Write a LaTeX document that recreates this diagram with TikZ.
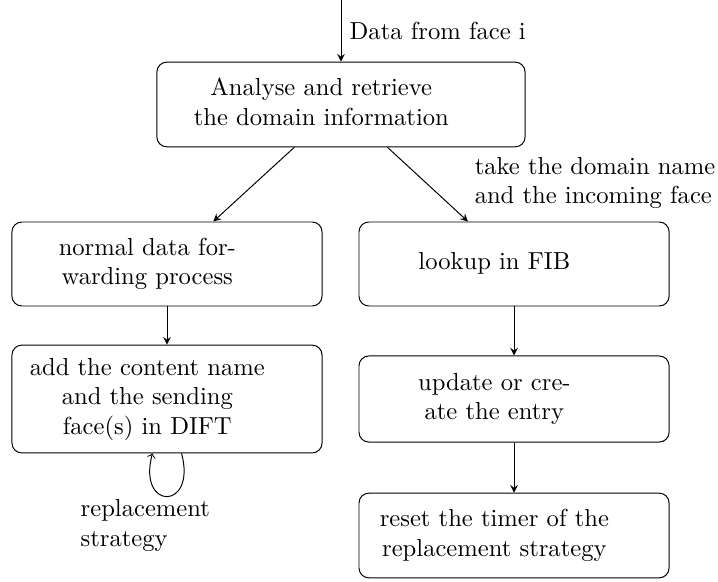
\documentclass[tikz,border=0pt]{standalone}
\usepackage{xcolor}
\usepackage{tikz}
\usetikzlibrary{shapes.geometric, arrows}
\usetikzlibrary{calc,positioning}

% tekst in de kaders staat iets naar links
\newcommand{\steptext}[1]{\begin{tabular}{@{}c@{}}#1\end{tabular}\hspace*{16pt}}

\tikzset{
  stepbox/.style={draw, rounded corners=4pt, align=center,
    minimum width=4.43cm, minimum height=1.2cm},
}

\begin{document}
\begin{tikzpicture}[scale=1]

    \useasboundingbox (0,0) rectangle (10.258,8.301);

    % Ingaande data
    \coordinate (in) at (4.872,8.301);
    \node[stepbox, minimum width=5.26cm, minimum height=1.21cm] (analyse) at (4.872,6.808)
      {\steptext{Analyse and retrieve\\the domain information}};
    \draw[-stealth] (in) -- (analyse) node[midway, right] {Data from face i};

    % Linker tak
    \node[stepbox] (normal) at (2.386,4.529) {\steptext{normal data for-\\warding process}};
    \node[stepbox, minimum height=1.54cm] (content) at (2.386,2.600)
      {\steptext{add the content name\\and the sending\\face(s) in DIFT}};

    % Rechter tak
    \node[stepbox] (lookup) at (7.344,4.529) {\steptext{lookup in FIB}};
    \node[stepbox, minimum height=1.23cm] (update) at (7.344,2.600)
      {\steptext{update or cre-\\ate the entry}};
    \node[stepbox, minimum height=1.21cm] (reset) at (7.344,0.650)
      {\steptext{reset the timer of the\\replacement strategy}};

    % Pijlen
    \draw[-stealth] (analyse) -- (normal);
    \draw[-stealth] (analyse) -- (lookup);
    \node[align=left] (fibnote) at (8.501,5.686) {take the domain name\\and the incoming face};

    \draw[-stealth] (normal) -- (content);
    \draw[-stealth] (lookup) -- (update);
    \draw[-stealth] (update) -- (reset);

    % Vervanging
    \draw[-to] (content.-75) .. controls +(-75:0.85) and +(-105:0.85) .. (content.-105);
    \node[align=left, anchor=north west] (repl) at (1.029,1.286) {replacement\\strategy};

\end{tikzpicture}
\end{document}
